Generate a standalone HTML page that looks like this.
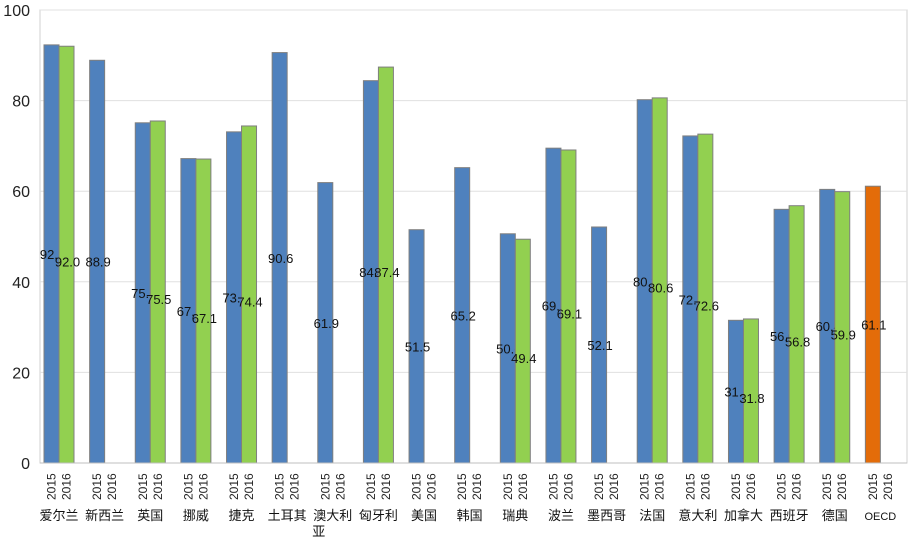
<!DOCTYPE html>
<html><head><meta charset="utf-8"><style>
body{margin:0;background:#fff}
svg{display:block;font-family:"Liberation Sans","Noto Sans CJK SC",sans-serif}
</style></head><body>
<svg id="chart" width="912" height="540"></svg>
<script>
const categories=["爱尔兰","新西兰","英国","挪威","捷克","土耳其","澳大利亚","匈牙利","美国","韩国","瑞典","波兰","墨西哥","法国","意大利","加拿大","西班牙","德国","OECD"];
const values2015=[92.3,88.9,75.1,67.2,73.1,90.6,61.9,84.4,51.5,65.2,50.6,69.5,52.1,80.2,72.2,31.5,56.0,60.4,61.1];
const values2016=[92.0,null,75.5,67.1,74.4,null,null,87.4,null,null,49.4,69.1,null,80.6,72.6,31.8,56.8,59.9,null];
const yTicks=[0,20,40,60,80,100];
const yearLabels=["2015","2016"];
const svg=document.getElementById('chart');
const NS='http://www.w3.org/2000/svg';
const L=40,R=907,T=10,B=463;
const gw=(R-L)/categories.length;
const y=v=>B-(v/100)*(B-T);
const xg=i=>L+i*gw;
function mk(tag,attrs,parent){const e=document.createElementNS(NS,tag);for(const k in attrs)e.setAttribute(k,attrs[k]);(parent||svg).appendChild(e);return e;}
// frame + grid
const frame=mk('rect',{x:L,y:T,width:R-L,height:B-T,fill:'none',stroke:'#d0d0d0'});


yTicks.forEach(t=>{
  if(t>0){const g=mk('line',{x1:L,x2:R,y1:y(t),y2:y(t),stroke:'#e0e0e0'});
  
  }
  const tx=mk('text',{x:30,y:y(t)+6,'text-anchor':'end','font-size':16,fill:'#222'});tx.textContent=t;
  
  
});
const bw=15;
categories.forEach((c,i)=>{
  const x0=xg(i)+4;
  const isOecd=c==='OECD';
  const v1=values2015[i];
  const b1=mk('rect',{x:x0,y:y(v1),width:bw,height:B-y(v1),fill:isOecd?'#e36c09':'#4f81bd',stroke:'#7f7f7f','stroke-width':1});
  
  
  const l1=mk('text',{x:x0+bw/2+1,y:(y(v1)+B)/2+5,'text-anchor':'middle','font-size':13,fill:'#111'});l1.textContent=v1.toFixed(1);
  
  
  const v2=values2016[i];
  if(v2!=null){
    const b2=mk('rect',{x:x0+bw,y:y(v2),width:bw,height:B-y(v2),fill:'#92d050',stroke:'#7f7f7f','stroke-width':1});
    
    
    const l2=mk('text',{x:x0+bw+bw/2+1,y:(y(v2)+B)/2+12,'text-anchor':'middle','font-size':13,fill:'#111'});l2.textContent=v2.toFixed(1);
    
    
  }
  yearLabels.forEach((yl,k)=>{
    const cx=x0+bw*k+bw/2+4;
    const t=mk('text',{x:cx,y:500,'font-size':12,fill:'#222',transform:`rotate(-90 ${cx} 500)`});t.textContent=yl;
    
    
  });
  const cxc=x0+bw;
  if(c==='澳大利亚'){
    const a=mk('text',{x:cxc,y:520,'text-anchor':'middle','font-size':13,fill:'#111'});a.textContent='澳大利';
    
    
    const b=mk('text',{x:cxc-14,y:536,'text-anchor':'middle','font-size':13,fill:'#111'});b.textContent='亚';
    
    
  } else {
    const a=mk('text',{x:cxc,y:520,'text-anchor':'middle','font-size':isOecd?11:13,fill:'#111'});a.textContent=c;
    
    
  }
});
const ax=mk('line',{x1:L,x2:R,y1:B,y2:B,stroke:'#bfbfbf'});


</script>
</body></html>
